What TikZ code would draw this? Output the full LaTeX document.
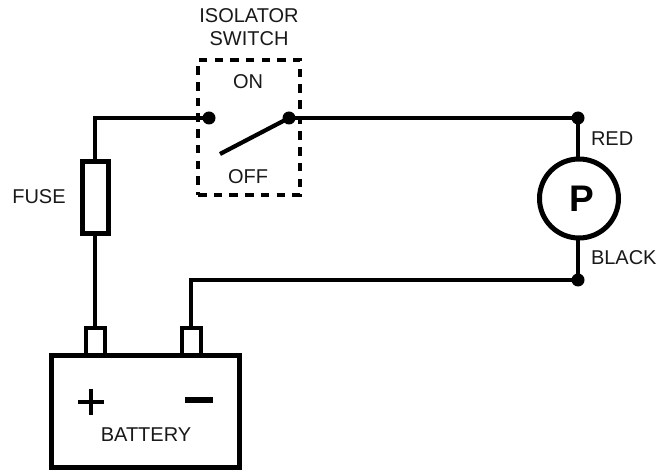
\documentclass[tikz,border=0pt]{standalone}
\usepackage{fontspec}
\setmainfont{Liberation Sans}
\tikzset{
  wire/.style={line width=4pt,line cap=butt,line join=miter},
  part/.style={draw=black,line width=#1,inner sep=0pt,outer sep=0pt,fill=white},
  joint/.style={circle,fill=black,minimum size=13pt,inner sep=0pt,outer sep=0pt},
  lbl/.style={inner sep=0pt,outer sep=0pt,font=\fontsize{20}{22}\selectfont,text=black!90},
}
\begin{document}
\begin{tikzpicture}[x=1pt,y=-1pt]
\useasboundingbox (0,0) rectangle (670,470);
% switch box
\node[draw=black,line width=4pt,dash pattern=on 8.5pt off 7.2pt,minimum width=102pt,minimum height=135pt,inner sep=0pt,outer sep=0pt] (switch) at (249,127.5) {};
% components
\node[part=5pt,minimum width=188pt,minimum height=112pt] (battery) at (145.5,411.5) {};
\node[part=4pt,minimum width=19.5pt,minimum height=27pt,anchor=south] (tplus) at (95.5,355) {};
\node[part=4pt,minimum width=19pt,minimum height=27pt,anchor=south] (tminus) at (191,355) {};
\node[part=5pt,minimum width=26pt,minimum height=71.7pt] (fuse) at (95,197.2) {};
\node[part=5pt,circle,minimum size=79pt] (pump) at (579,198.5) {};
% junctions
\node[joint] (j1) at (209,118) {};
\node[joint] (j2) at (289,118) {};
\node[joint] (j3) at (578,118) {};
\node[joint] (j4) at (578,280) {};
\coordinate (c1) at (95,118);
\coordinate (c2) at (191,280);
\coordinate (armend) at (220,154);
\coordinate (pa) at (78,402);
\coordinate (pb) at (104,402);
\coordinate (pc) at (91,389);
\coordinate (pd) at (91,415);
\coordinate (ma) at (185,400);
\coordinate (mb) at (213,400);
% wires
\draw[wire] (j1.center) -- (c1) -- (c1 |- fuse.north);
\draw[wire] (c1 |- fuse.south) -- (c1 |- tplus.north);
\draw[wire] (j2.center) -- (j3.center) -- (j3 |- pump.north);
\draw[wire] (j3 |- pump.south) -- (j4.center) -- (c2) -- (tminus.north);
\draw[line width=4.2pt] (armend) -- (j2.center);
% polarity marks
\draw[line width=3.2pt] (pa) -- (pb);
\draw[line width=3.2pt] (pc) -- (pd);
\draw[line width=6pt] (ma) -- (mb);
% labels
\node[lbl] (l1) at (249,15.5) {ISOLATOR};
\node[lbl] (l2) at (249,38.5) {SWITCH};
\node[lbl] (l3) at (248,82) {ON};
\node[lbl] (l4) at (248,176.5) {OFF};
\node[lbl] (l5) at (39,196.5) {FUSE};
\node[lbl] (l6) at (146,435) {BATTERY};
\node[lbl,anchor=west] (l7) at (591,139) {RED};
\node[lbl,anchor=west] (l8) at (591,258) {BLACK};
\node[inner sep=0pt,font=\fontsize{37}{40}\selectfont\bfseries] (l9) at (581.5,199) {P};
\end{tikzpicture}
\end{document}
